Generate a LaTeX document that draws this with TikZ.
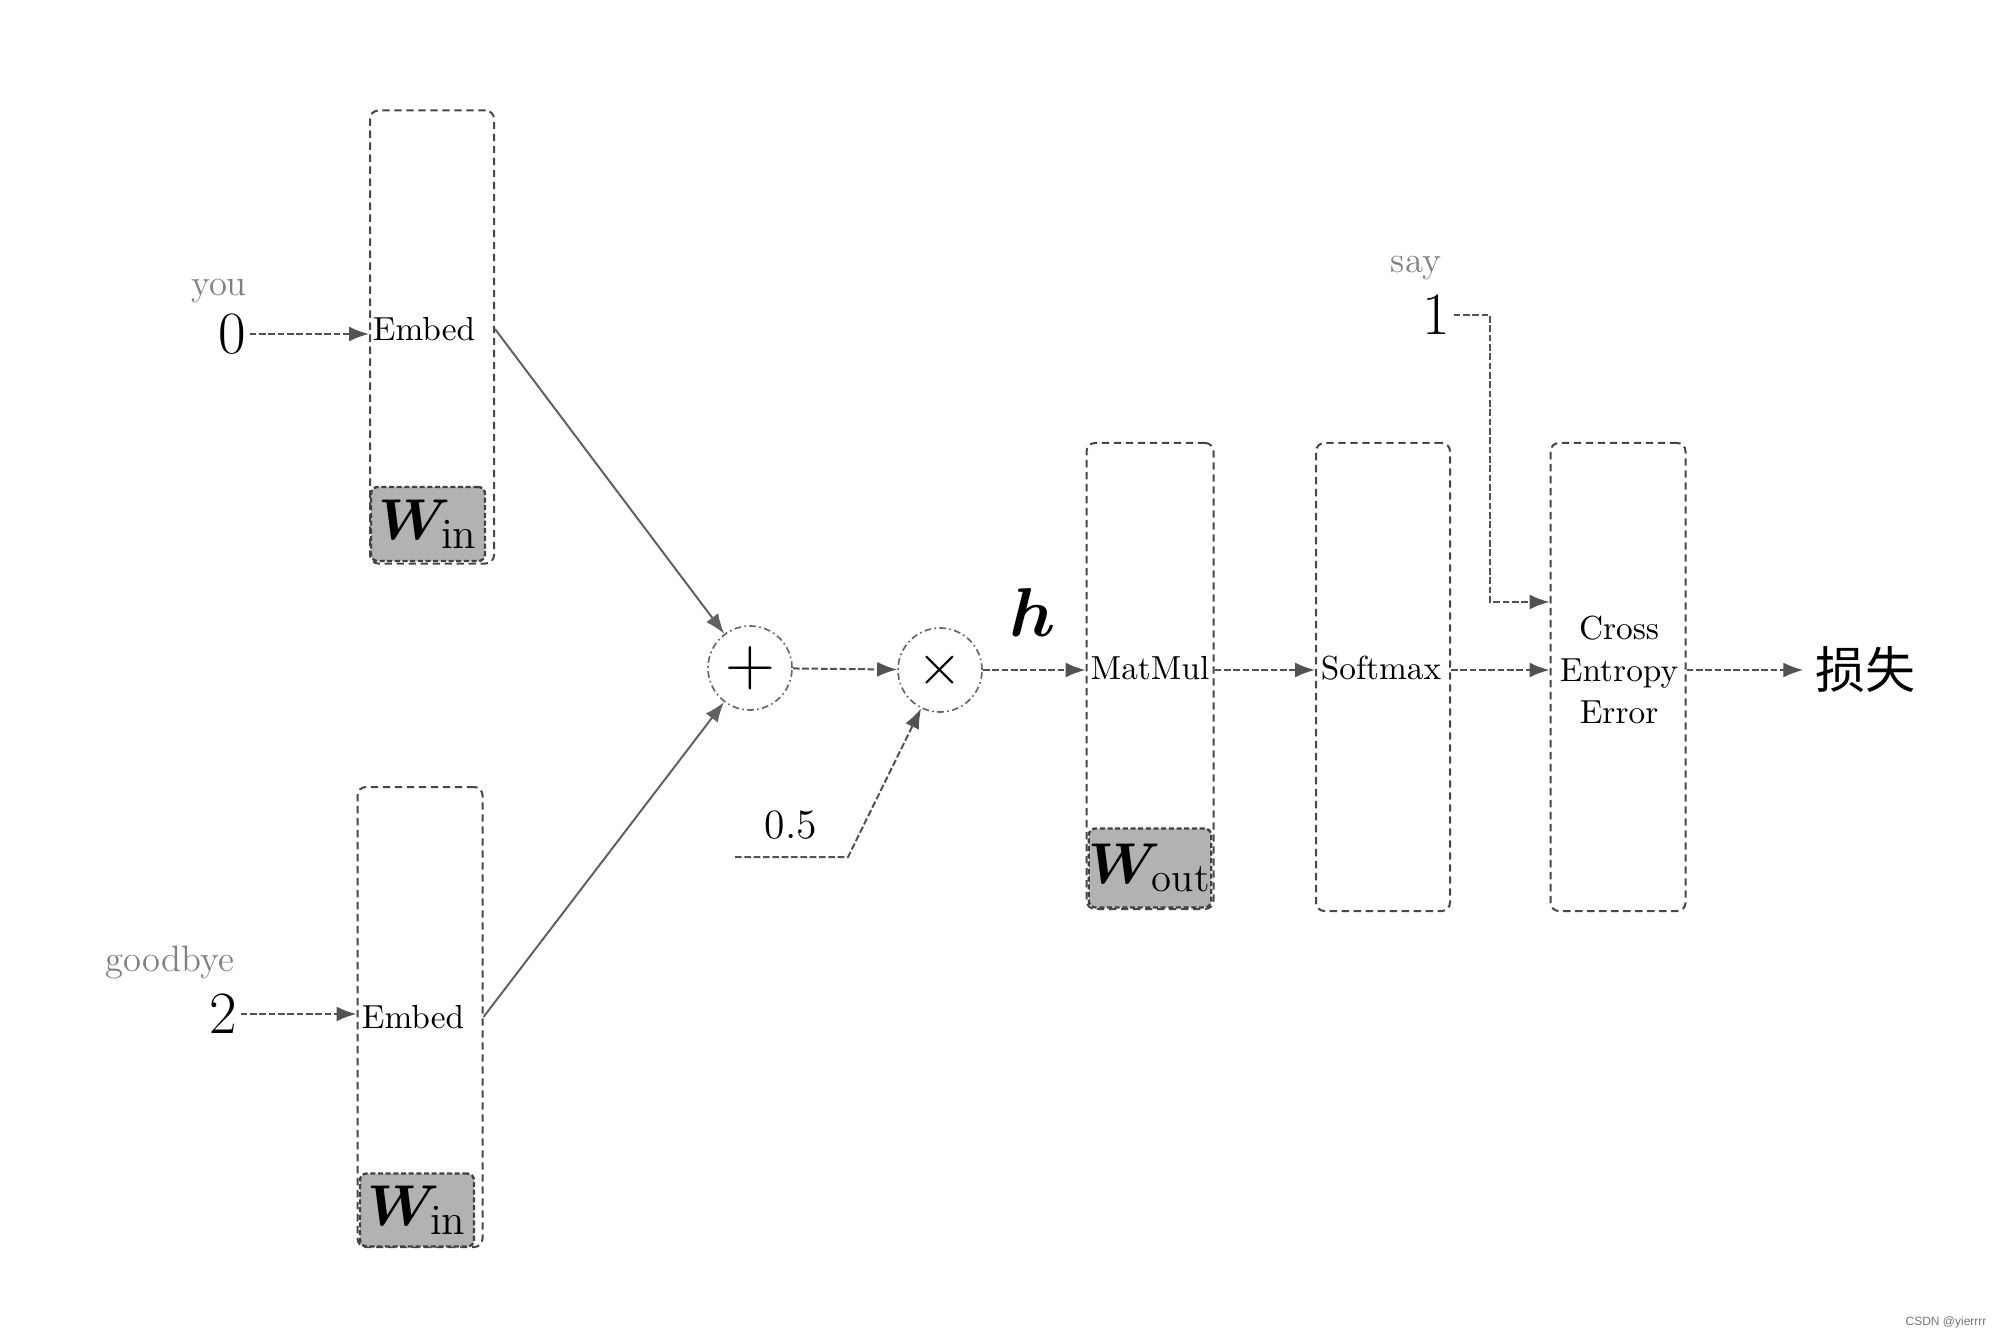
\documentclass[tikz,border=0pt]{standalone}
\usepackage{fontspec}
\usepackage{bm}
\newfontfamily\cjkfont{Noto Sans CJK SC}
\newfontfamily\csdnfont{Liberation Sans}
\usetikzlibrary{arrows.meta}
\begin{document}
\begin{tikzpicture}[x=0.3pt,y=-0.3pt,
  layerbox/.style={draw=black!72, line width=0.6pt, dash pattern=on 2.2pt off 1.4pt, rounded corners=2.5pt, inner sep=0pt},
  boxtext/.style={font=\fontsize{10}{12.6}\selectfont, align=center, inner sep=0.5pt},
  wbox/.style={draw=black!75, fill=black!30, line width=0.7pt, dash pattern=on 1.5pt off 0.8pt, rounded corners=2pt, inner sep=0pt, font=\fontsize{18.5}{20}\selectfont},
  opnode/.style={circle, draw=black!60, line width=0.5pt, dash pattern=on 2pt off 1pt on 0.5pt off 1pt, minimum size=84*0.3pt, inner sep=0pt},
  flow/.style={draw=black!68, line width=0.6pt, dash pattern=on 2pt off 0.8pt, -{Latex[length=6pt,width=4.5pt]}},
  solidflow/.style={draw=black!62, line width=0.6pt, -{Latex[length=6pt,width=4.5pt]}},
  word/.style={text=black!50, font=\fontsize{11}{13}\selectfont},
  idx/.style={font=\fontsize{18}{20}\selectfont, inner sep=1pt},
]
\useasboundingbox (0,0) rectangle (2000,1339);

% left embed layers
\node[layerbox, minimum width=124*0.3pt, minimum height=453*0.3pt] (emb1) at (432,337) {};
\node[boxtext] (emb1t) at (424,329) {Embed};
\node[wbox, minimum width=114*0.3pt, minimum height=74*0.3pt] (win1) at (428,524) {$\bm{W}_{\mathrm{in}}$};
\node[layerbox, minimum width=125*0.3pt, minimum height=460*0.3pt] (emb2) at (420,1017) {};
\node[boxtext] (emb2t) at (413,1017) {Embed};
\node[wbox, minimum width=114*0.3pt, minimum height=73*0.3pt] (win2) at (417,1210) {$\bm{W}_{\mathrm{in}}$};

% inputs
\node[idx] (n0) at (232,334) {0};
\node[word] (you) at (219,291) {you};
\node[idx] (n2) at (223,1014) {2};
\node[word] (gb) at (170,963) {goodbye};

% operations
\node[opnode, font=\fontsize{21}{24}\selectfont] (plus) at (750,668) {$+$};
\node[opnode, font=\fontsize{18}{20}\selectfont] (times) at (940,670) {$\times$};
\node[font=\fontsize{12.5}{14}\selectfont] (half) at (791,825) {0.5};
\coordinate (halfa) at (735,857);
\coordinate (halfb) at (848,857);
\node[font=\fontsize{20}{24}\selectfont] (h) at (1033,612) {$\bm{h}$};

% right layers
\node[layerbox, minimum width=127*0.3pt, minimum height=466*0.3pt] (mm) at (1150,676) {};
\node[boxtext] (mmt) at (1150,668) {MatMul};
\node[wbox, minimum width=118*0.3pt, minimum height=79*0.3pt, font=\fontsize{17.5}{20}\selectfont] (wout) at (1150,868) {$\bm{W}_{\mathrm{out}}$};
\node[layerbox, minimum width=134*0.3pt, minimum height=468*0.3pt] (sm) at (1383,677) {};
\node[boxtext] (smt) at (1381,668) {Softmax};
\node[layerbox, minimum width=135*0.3pt, minimum height=468*0.3pt] (ce) at (1618,677) {};
\node[boxtext] (cet) at (1619,670) {Cross\\Entropy\\Error};

\node[word] (say) at (1416,268) {say};
\node[idx] (n1) at (1436,315) {1};
\coordinate (sayturn) at (1490,602);

\node[font=\fontsize{15}{18}\cjkfont] (loss) at (1865,670) {损失};
\node[font=\fontsize{3.6}{4.5}\csdnfont, text=black!55] (csdn) at (1946,1322) {CSDN @yierrrr};

% connectors
\draw[flow] (n0) -- (n0 -| emb1.west);
\draw[flow] (n2) -- (n2 -| emb2.west);
\draw[solidflow] (emb1.east |- emb1t) -- (plus);
\draw[solidflow] (emb2.east |- emb2t) -- (plus);
\draw[flow] (plus) -- (times);
\draw[flow] (halfa) -- (halfb) -- (times);
\draw[flow] (times) -- (times -| mm.west);
\draw[flow] (mm.east |- times) -- (sm.west |- times);
\draw[flow] (sm.east |- times) -- (ce.west |- times);
\draw[flow] (n1) -| (sayturn) -- (sayturn -| ce.west);
\draw[flow] (ce.east |- times) -- (loss);
\end{tikzpicture}
\end{document}
